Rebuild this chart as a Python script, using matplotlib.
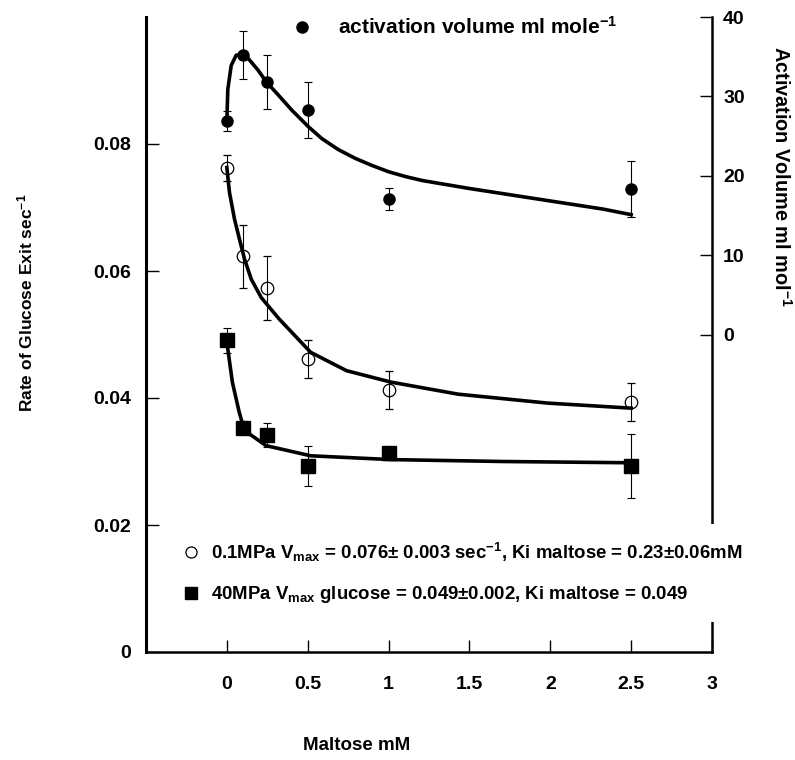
import matplotlib
matplotlib.use("Agg")
import matplotlib.pyplot as plt
from matplotlib.lines import Line2D

# measured points (maltose mM)
conc = [0, 0.1, 0.25, 0.5, 1, 2.5]

rate_01 = [0.0762, 0.0623, 0.0573, 0.0462, 0.0413, 0.0394]
rate_01_err = [0.0021, 0.005, 0.005, 0.003, 0.003, 0.003]

rate_40 = [0.0491, 0.0353, 0.0342, 0.0293, 0.0313, 0.0293]
rate_40_err = [0.002, 0.001, 0.0019, 0.0031, 0.001, 0.005]

act_vol = [26.9, 35.2, 31.8, 28.3, 17.1, 18.3]
act_vol_err = [1.3, 3.0, 3.4, 3.5, 1.4, 3.5]

# fitted curves
fit_x_01 = [0, 0.016, 0.047, 0.078, 0.109, 0.151, 0.213, 0.325, 0.518, 0.740, 1.015,
            1.431, 1.983, 2.5]
fit_01 = [0.0763, 0.0724, 0.0682, 0.0650, 0.0619, 0.0587, 0.0558, 0.0524, 0.0472, 0.0443,
          0.0425, 0.0406, 0.0392, 0.0384]

fit_x_40 = [0, 0.02, 0.034, 0.076, 0.103, 0.131, 0.242, 0.518, 1.015, 1.707, 2.5]
fit_40 = [0.0488, 0.0451, 0.0425, 0.0378, 0.0354, 0.0345, 0.0325, 0.0309, 0.0303, 0.0300, 0.0298]

fit_x_act = [0, 0.006, 0.027, 0.058, 0.093, 0.131, 0.193, 0.245, 0.317, 0.400, 0.503,
             0.586, 0.689, 0.793, 0.897, 1.001, 1.104, 1.208, 1.498, 1.912, 2.326, 2.5]
fit_act = [26.9, 30.9, 33.9, 35.2, 35.2, 34.8, 33.3, 31.8, 30.2, 28.3, 26.2,
           24.7, 23.3, 22.2, 21.3, 20.5, 19.9, 19.4, 18.4, 17.1, 15.8, 15.1]

x_ticks = [0, 0.5, 1, 1.5, 2, 2.5, 3]
x_ticklabels = ["0", "0.5", "1", "1.5", "2", "2.5", "3"]
left_ticks = [0, 0.02, 0.04, 0.06, 0.08]
left_ticklabels = ["0", "0.02", "0.04", "0.06", "0.08"]
right_ticks = [0, 10, 20, 30, 40]

plt.rcParams["font.family"] = ["Liberation Sans", "DejaVu Sans"]
plt.rcParams["font.weight"] = "bold"
plt.rcParams["mathtext.fontset"] = "custom"
plt.rcParams["mathtext.rm"] = "Liberation Sans:bold"
plt.rcParams["mathtext.bf"] = "Liberation Sans:bold"
plt.rcParams["mathtext.sf"] = "Liberation Sans"
plt.rcParams["mathtext.it"] = "Liberation Sans:bold:italic"

W, H = 795, 760

fig = plt.figure(figsize=(W / 100, H / 100), dpi=100)
ax = fig.add_axes([146 / W, 1 - 652 / H, (712 - 146) / W, (652 - 17) / H])
ax.set_xlim(-0.5, 3)
ax.set_ylim(0, 0.1)
ax2 = ax.twinx()
ax2.set_ylim(-40, 40)

# rate of glucose exit (left axis)
ax.errorbar(conc, rate_01, yerr=rate_01_err, fmt="o", mfc="none", mec="black", ms=9,
            mew=0.9, ecolor="black", elinewidth=0.8, capsize=3, capthick=0.8, zorder=3)
ax.plot(fit_x_01, fit_01, color="black", lw=2.6, zorder=4)
ax.errorbar(conc, rate_40, yerr=rate_40_err, fmt="s", color="black", ms=10,
            ecolor="black", elinewidth=0.8, capsize=3, capthick=0.8, zorder=3)
ax.plot(fit_x_40, fit_40, color="black", lw=2.6, zorder=4)

# activation volume (right axis)
ax2.errorbar(conc, act_vol, yerr=act_vol_err, fmt="o", color="black", ms=8,
             ecolor="black", elinewidth=0.8, capsize=3, capthick=0.8, zorder=3)
ax2.plot(fit_x_act, fit_act, color="black", lw=2.6, zorder=4)

# spines / ticks
ax.spines["top"].set_visible(False)
ax.spines["right"].set_visible(False)
ax.spines["left"].set_linewidth(2.2)
ax.spines["bottom"].set_linewidth(1.8)
for s in ["top", "left", "bottom"]:
    ax2.spines[s].set_visible(False)
ax2.spines["right"].set_linewidth(1.8)

ax.set_xticks(x_ticks)
ax.set_xticklabels(x_ticklabels)
ax.set_yticks(left_ticks)
ax.set_yticklabels(left_ticklabels)
ax2.set_yticks(right_ticks)
ax.tick_params(axis="x", direction="in", length=9, width=1, pad=17, labelsize=14)
ax.tick_params(axis="y", direction="in", length=9, width=1, pad=11, labelsize=14)
ax2.tick_params(axis="y", direction="in", length=9, width=1, pad=8, labelsize=14)

# axis titles
fig.text(357 / W, 1 - 745 / H, "Maltose mM", ha="center", va="center", fontsize=13.5)
fig.text(25 / W, 1 - 303 / H, r"Rate of Glucose Exit sec$^{-1}$", rotation=90,
         ha="center", va="center", fontsize=12.5)
fig.text(781 / W, 1 - 176 / H, r"Activation Volume ml mol$^{-1}$", rotation=270,
         ha="center", va="center", fontsize=14.3)

# legends
top_handle = Line2D([], [], marker="o", ls="none", color="black", ms=8)
fig.legend(handles=[top_handle], labels=[r"activation volume ml mole$^{-1}$"],
           loc="center left", bbox_to_anchor=(292 / W, 1 - 27 / H), frameon=False,
           handlelength=1.0, handletextpad=1.2, borderpad=0, borderaxespad=0, fontsize=15)

h_open = Line2D([], [], marker="o", ls="none", mfc="none", mec="black", ms=8, mew=0.9)
h_sq = Line2D([], [], marker="s", ls="none", color="black", ms=9)
lab_01 = r"0.1MPa V$_{\mathrm{max}}$ = 0.076± 0.003 $\mathsf{sec^{-1}}$, Ki maltose = 0.23±0.06mM"
lab_40 = r"40MPa V$_{\mathrm{max}}$ glucose = 0.049±0.002, Ki maltose = 0.049"
fig.legend(handles=[h_open, h_sq], labels=[lab_01, lab_40], loc="upper left",
           bbox_to_anchor=(165 / W, 1 - 524 / H), frameon=True, facecolor="white",
           edgecolor="none", framealpha=1, fancybox=False, handlelength=1.0,
           handletextpad=0.55, labelspacing=1.1, borderpad=0.9, borderaxespad=0, fontsize=13.4)

plt.savefig("out.png", dpi=100)
plt.close()
